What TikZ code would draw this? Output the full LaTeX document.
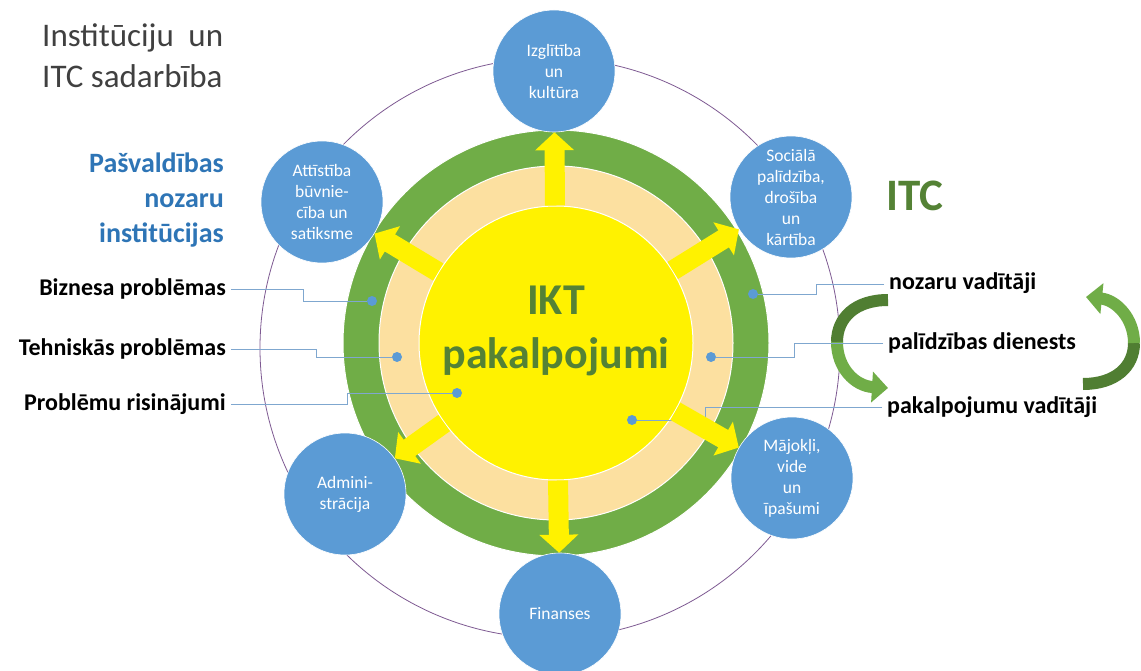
\documentclass[tikz,border=0pt]{standalone}
\usepackage{fontspec}
\setmainfont{Carlito}
\usepackage{tikz}
\usetikzlibrary{positioning,arrows.meta}

\definecolor{itcgreen}{HTML}{70AD47}
\definecolor{loopgreen}{HTML}{507E32}
\definecolor{iktgreen}{HTML}{548235}
\definecolor{svcbeige}{HTML}{FCE0A0}
\definecolor{unitblue}{HTML}{5B9BD5}
\definecolor{headblue}{HTML}{2E75B6}
\definecolor{leadblue}{HTML}{7FA7CF}
\definecolor{orbitpurple}{HTML}{7E5A92}
\definecolor{titlegray}{HTML}{404040}

\tikzset{
    ring/.style={circle, draw=white, line width=1pt, inner sep=0pt},
    dept/.style={circle, fill=unitblue, draw=white, line width=0.6pt, minimum size=122pt, inner sep=0pt, align=center, text=white, font=\fontsize{17.5}{21}\selectfont},
    ray/.style={draw=yellow, line width=20pt, -{Triangle[width=38pt,length=18pt]}},
    ldot/.style={circle, fill=unitblue, minimum size=10pt, inner sep=0pt},
    leader/.style={draw=leadblue, line width=0.8pt},
    lbltext/.style={font=\fontsize{24}{28}\selectfont\bfseries, text height=17pt, text depth=5pt, inner sep=5pt},
    headtext/.style={font=\fontsize{28}{35}\selectfont\bfseries, text=headblue, inner sep=0pt},
    titletext/.style={font=\fontsize{33}{41}\selectfont, text=titlegray, inner sep=0pt},
    loopback/.style={draw=loopgreen, line width=12pt},
    loopfront/.style={draw=itcgreen, line width=12pt, -{Triangle[width=30pt,length=16pt]}}
}

\begin{document}
\begin{tikzpicture}[x=1pt, y=-1pt]
        \fill[white] (0,0) rectangle (1141,671);
        \useasboundingbox (0,0) rectangle (1141,671);
        \draw[orbitpurple, line width=0.8pt] (550,348) circle[radius=290];

        \node[ring, fill=itcgreen, minimum size=426pt] (itc) at (556,343) {};
        \node[ring, fill=svcbeige, minimum size=354pt] (svc) at (556,343) {};
        \node[ring, fill=yellow, minimum size=274pt] (core) at (556,343) {};

        \node[dept] (educ) at (554,71) {Izglītība\\un\\kultūra};
        \node[dept] (devt) at (322,202) {Attīstība\\būvnie-\\cība un\\satiksme};
        \node[dept] (socl) at (791,197) {Sociālā\\palīdzība,\\drošība\\un\\kārtība};
        \node[dept] (admn) at (345,494) {Admini-\\strācija};
        \node[dept] (hous) at (792,478) {Mājokļi,\\vide\\un\\īpašumi};
        \node[dept] (fina) at (560,614) {Finanses};

        \coordinate (lpA) at (888,300);
        \coordinate (lpM) at (837,342);
        \coordinate (lpB) at (888,388);
        \draw[loopback] (lpA) .. controls (855,300) and (837,318) .. (lpM);
        \draw[loopfront] (lpM) .. controls (837,368) and (855,386) .. (lpB);
        \coordinate (rpA) at (1083,384);
        \coordinate (rpM) at (1134,343);
        \coordinate (rpB) at (1086,297);
        \draw[loopback] (rpA) .. controls (1115,384) and (1134,367) .. (rpM);
        \draw[loopfront] (rpM) .. controls (1134,318) and (1116,300) .. (rpB);

        \node[lbltext, anchor=base east] (bizlbl) at (231,295) {Biznesa problēmas};
        \node[lbltext, anchor=base east] (teclbl) at (231,355) {Tehniskās problēmas};
        \node[lbltext, anchor=base east] (sollbl) at (231,410) {Problēmu risinājumi};
        \node[lbltext, anchor=base west] (nozlbl) at (884,290) {nozaru vadītāji};
        \node[lbltext, anchor=base west] (pallbl) at (883,349) {palīdzības dienests};
        \node[lbltext, anchor=base west] (paklbl) at (882,413) {pakalpojumu vadītāji};

        \node[ldot] (bizdot) at (372,301) {};
        \node[ldot] (tecdot) at (397,357) {};
        \node[ldot] (soldot) at (457,393) {};
        \node[ldot] (nozdot) at (753,294) {};
        \node[ldot] (paldot) at (711,357) {};
        \node[ldot] (pakdot) at (632,420) {};

        \draw[leader] (bizlbl.east) -- ++(72,0) |- (bizdot);
        \draw[leader] (teclbl.east) -- ++(85,0) |- (tecdot);
        \draw[leader] (sollbl.east) -- ++(116,0) |- (soldot);
        \draw[leader] (nozlbl.west) -- ++(-68,0) |- (nozdot);
        \draw[leader] (pallbl.west) -- ++(-89,0) |- (paldot);
        \draw[leader] (paklbl.west) -- ++(-177,0) |- (pakdot);

        \foreach \d in {educ,devt,socl,admn,hous,fina}
            \draw[ray] (core) -- (\d);

        \node[font=\fontsize{44}{54}\selectfont\bfseries, text=iktgreen, align=center] (ikt) at (556,331) {IKT\\pakalpojumi};
        \node[font=\fontsize{45}{54}\selectfont\bfseries, text=iktgreen, anchor=base west, inner sep=0pt] (itclbl) at (886,211) {ITC};

        \node[titletext, anchor=base west] (ttl) at (42,47) {\makebox[181pt][s]{Institūciju un}};
        \node[titletext, below=41pt of ttl.base west, anchor=base west] (ttl2) {ITC sadarbība};

        \node[headtext, anchor=base east] (hd) at (224,173) {Pašvaldības};
        \node[headtext, below=35pt of hd.base east, anchor=base east] (hd2) {nozaru};
        \node[headtext, below=35pt of hd2.base east, anchor=base east] (hd3) {institūcijas};
    \end{tikzpicture}
\end{document}
